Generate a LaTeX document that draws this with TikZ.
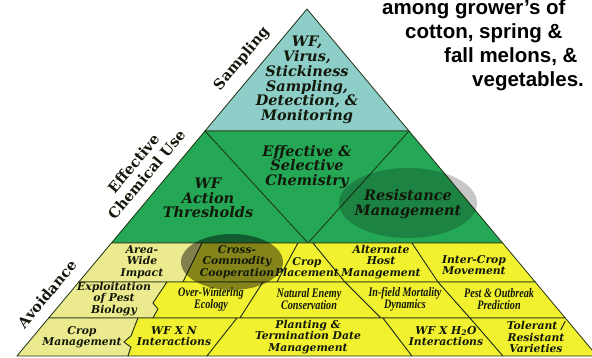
\documentclass[tikz,border=0pt]{standalone}
\usepackage{fontspec}
\newfontfamily\notefont{Liberation Sans}
\newfontfamily\pyrfont{DejaVu Serif}
\newfontfamily\condfont[FakeStretch=0.78]{Liberation Serif}
\definecolor{pyrteal}{RGB}{142,206,200}
\definecolor{pyrgreen}{RGB}{36,168,86}
\definecolor{pyrpale}{RGB}{236,234,142}
\definecolor{pyrbright}{RGB}{242,241,48}
\definecolor{pyrline}{RGB}{32,48,20}
\definecolor{pyrtext}{RGB}{18,24,10}

\begin{document}
\begin{tikzpicture}[x=1pt, y=-1pt,
  tierTxt/.style={font=\pyrfont\fontsize{14.5}{14.7}\selectfont\bfseries\itshape, align=center, text=pyrtext, inner sep=0pt},
  cellTxt/.style={font=\pyrfont\fontsize{10.8}{11.6}\selectfont\bfseries\itshape, align=center, text=pyrtext, inner sep=0pt},
  condTxt/.style={font=\condfont\fontsize{13}{12}\selectfont\bfseries\itshape, align=center, text=pyrtext, inner sep=0pt},
  sideTxt/.style={font=\pyrfont\fontsize{14.5}{17}\selectfont\bfseries, align=center, rotate=50, text=pyrtext, inner sep=0pt},
  noteTxt/.style={font=\notefont\fontsize{20.5}{24}\selectfont\bfseries, anchor=base west, inner sep=0pt},
  cellLine/.style={draw=pyrline, line width=0.8pt, line join=round},
  paleCell/.style={cellLine, fill=pyrpale},
  brightCell/.style={cellLine, fill=pyrbright},
  shadeOval/.style={fill=black, fill opacity=#1}]
\clip (0,0) rectangle (592,358);
% Tiers
\filldraw[cellLine, fill=pyrteal] (307,9) -- (409,131) -- (205,131) -- cycle;
\filldraw[cellLine, fill=pyrgreen] (205,131) -- (409,131) -- (502.6,243) -- (111.4,243) -- cycle;
\draw[cellLine] (205,131) -- (308,243) -- (409,131);
% Row 1
\filldraw[paleCell] (111.4,243) -- (202,243) -- (183,282) -- (78.8,282) -- cycle;
\filldraw[brightCell] (202,243) -- (298,243) -- (277,282) -- (183,282) -- cycle;
\filldraw[brightCell] (298,243) -- (313,243) -- (345,282) -- (277,282) -- cycle;
\filldraw[brightCell] (313,243) -- (412,243) -- (438,282) -- (345,282) -- cycle;
\filldraw[brightCell] (412,243) -- (502.6,243) -- (535.2,282) -- (438,282) -- cycle;
% Row 2
\filldraw[paleCell] (78.8,282) -- (167,282) -- (153,303) -- (158,309) -- (153,318) -- (48.7,318) -- cycle;
\filldraw[brightCell] (167,282) -- (263,282) -- (240,318) -- (153,318) -- (158,309) -- (153,303) -- cycle;
\filldraw[brightCell] (263,282) -- (345,282) -- (381,318) -- (240,318) -- cycle;
\filldraw[brightCell] (345,282) -- (438,282) -- (470,318) -- (381,318) -- cycle;
\filldraw[brightCell] (438,282) -- (535.2,282) -- (565.3,318) -- (470,318) -- cycle;
% Row 3
\filldraw[paleCell] (48.7,318) -- (138,318) -- (131,336) -- (124,342) -- (131,347) -- (128,356) -- (16.9,356) -- cycle;
\filldraw[brightCell] (138,318) -- (237,318) -- (207,356) -- (128,356) -- (131,347) -- (124,342) -- (131,336) -- cycle;
\filldraw[brightCell] (237,318) -- (383,318) -- (412,356) -- (207,356) -- cycle;
\filldraw[brightCell] (383,318) -- (470,318) -- (503,356) -- (412,356) -- cycle;
\filldraw[brightCell] (470,318) -- (565.3,318) -- (597.1,356) -- (503,356) -- cycle;
% Highlights
\fill[shadeOval=0.22] (408,203) ellipse [x radius=69, y radius=35];
\fill[shadeOval=0.45] (232,262) ellipse [x radius=51, y radius=28];
% Tier texts
\node[tierTxt] (sampTxt) at (307,80) {WF,\\Virus,\\Stickiness\\Sampling,\\Detection, \&\\Monitoring};
\node[tierTxt] (chemTxt) at (307,167) {Effective \&\\Selective\\Chemistry};
\node[tierTxt] (wfTxt) at (208,198) {WF\\Action\\Thresholds};
\node[tierTxt] (resTxt) at (408,204) {Resistance\\Management};
% Cell texts
\node[cellTxt] (areaTxt) at (142,262) {Area-\\Wide\\Impact};
\node[cellTxt] (crossTxt) at (237,262) {Cross-\\Commodity\\Cooperation};
\node[cellTxt] (placeTxt) at (307,267) {Crop\\Placement};
\node[cellTxt] (hostTxt) at (381,262) {Alternate\\Host\\Management};
\node[cellTxt] (moveTxt) at (474,265) {Inter-Crop\\Movement};
\node[cellTxt] (exploitTxt) at (114,299) {Exploitation\\of Pest\\Biology};
\node[condTxt] (winterTxt) at (211,299) {Over-Wintering\\Ecology};
\node[condTxt] (enemyTxt) at (309,299) {Natural Enemy\\Conservation};
\node[condTxt] (mortTxt) at (405,299) {In-field Mortality\\Dynamics};
\node[condTxt] (outbreakTxt) at (499,299) {Pest \& Outbreak\\Prediction};
\node[cellTxt] (cropTxt) at (82,337) {Crop\\Management};
\node[cellTxt] (wfnTxt) at (174,336) {WF X N\\Interactions};
\node[cellTxt] (plantTxt) at (308,337) {Planting \&\\Termination Date\\Management};
\node[cellTxt] (wfhTxt) at (446,336) {WF X H\textsubscript{2}O\\Interactions};
\node[cellTxt] (tolTxt) at (536,337) {Tolerant /\\Resistant\\Varieties};
% Side labels
\node[sideTxt] (sampSide) at (242,59) {Sampling};
\node[sideTxt] (chemSide) at (140,169) {Effective\\Chemical Use};
\node[sideTxt] (avoidSide) at (47,294) {Avoidance};
% Note
\node[noteTxt] (note1) at (382,15) {among grower’s of};
\node[noteTxt] (note2) at (405,38.5) {cotton, spring \&};
\node[noteTxt] (note3) at (444,63) {fall melons, \&};
\node[noteTxt] (note4) at (472,87) {vegetables.};
\end{tikzpicture}
\end{document}
